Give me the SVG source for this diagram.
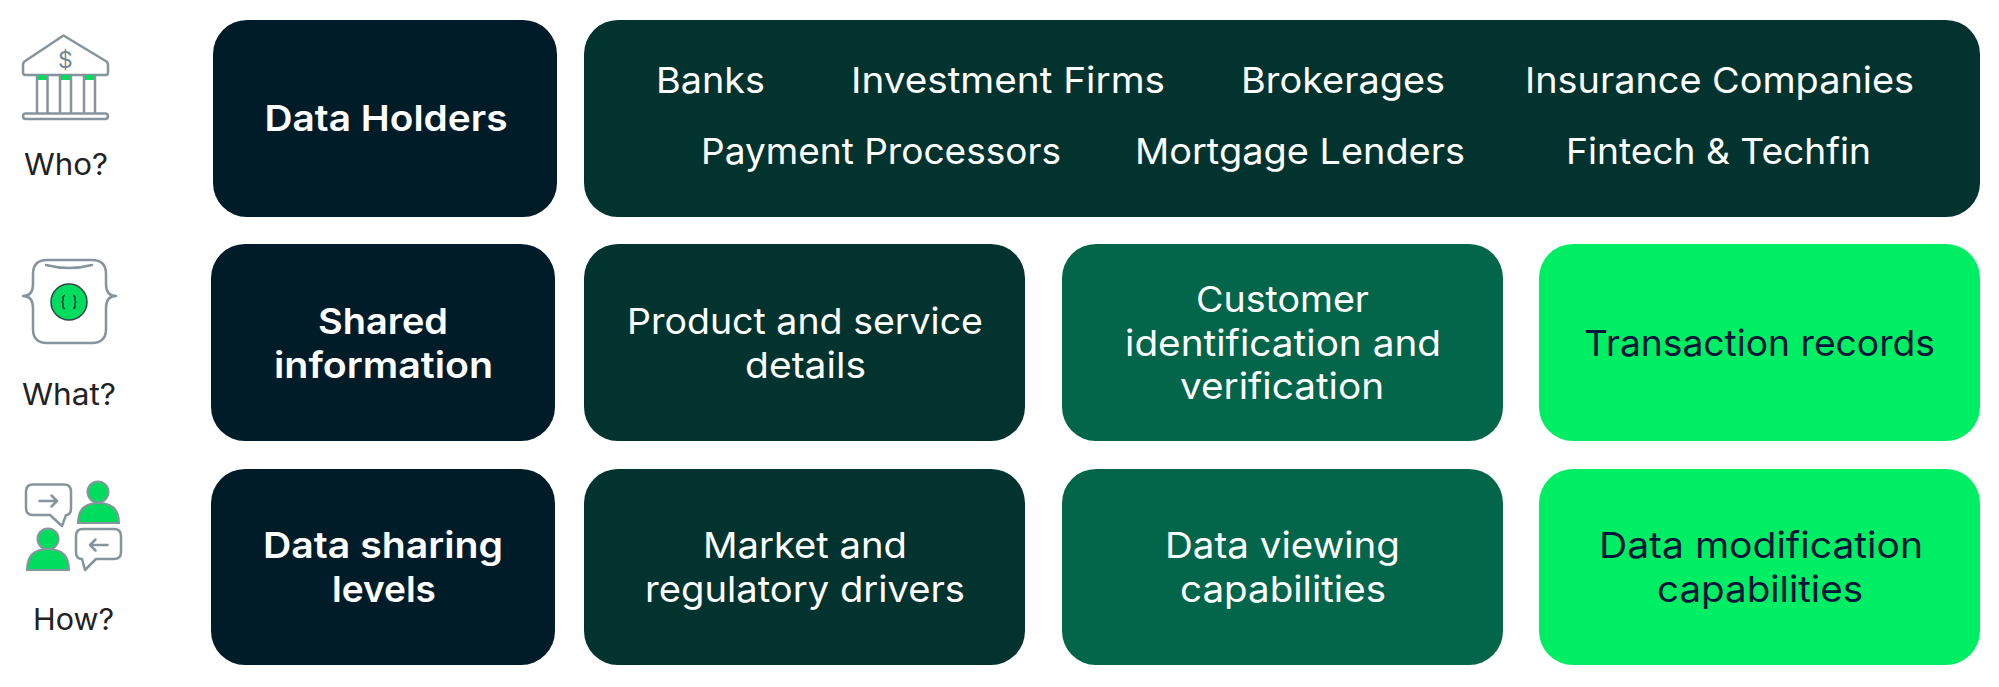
<svg xmlns="http://www.w3.org/2000/svg" width="1999" height="687" viewBox="0 0 1999 687">
<style>
text{font-family:"Inter","Liberation Sans",sans-serif;font-size:36px;font-weight:400}
.h{font-weight:600;fill:#fff}
.w{fill:#fff}
.d{fill:#02153a}
.q{fill:#222;font-size:30px}
.navy{fill:#001c29}.dark{fill:#03332f}.mid{fill:#03664b}.lime{fill:#00ee64}
.ln{fill:none;stroke:#84959d;stroke-width:2.500;stroke-linecap:round;stroke-linejoin:round}
.gf{fill:#00dd5e;stroke:#84959d;stroke-width:2}
</style>
<rect width="1999" height="687" fill="#fff"/>

<g id="icon-who">
<path class="ln" d="M63.500 35.500L24.500 61.500Q23 62.500 23 65V72.500Q23 75 25.500 75H105.500Q108 75 108 72.500V65Q108 62.500 106.500 61.500Z"/>
<rect x="38" y="75" width="9" height="5" fill="#00dd5e"/><rect x="61" y="75" width="9" height="5" fill="#00dd5e"/><rect x="85" y="75" width="9" height="5" fill="#00dd5e"/>
<path class="ln" d="M37 75V113M47.500 75V113M60 75V113M71 75V113M84 75V113M95 75V113"/>
<rect x="23" y="113.500" width="85" height="5.500" rx="2.700" class="ln"/>
<text x="65.500" y="68" text-anchor="middle" style="font-size:23px;fill:#738791">$</text>
<text class="q" x="24" y="175" textLength="84" lengthAdjust="spacingAndGlyphs">Who?</text>
</g>

<g id="icon-what">
<path class="ln" d="M47 260H92Q106 260 106 274V284Q106 296 116 296Q106 296 106 308V329Q106 343 92 343H47Q33 343 33 329V308Q33 296 23 296Q33 296 33 284V274Q33 260 47 260Z"/>
<path class="ln" d="M46 265Q69 271 92 265"/>
<circle cx="69" cy="302" r="18" fill="#00dd5e" stroke="#2f434b" stroke-width="1.500"/>
<path d="M65 295.500Q63 295.500 63 297.500V300.500Q63 302 61.500 302Q63 302 63 303.500V306.500Q63 308.500 65 308.500M73 295.500Q75 295.500 75 297.500V300.500Q75 302 76.500 302Q75 302 75 303.500V306.500Q75 308.500 73 308.500" fill="none" stroke="#1d4a3f" stroke-width="1.700"/>
<text class="q" x="22" y="405" textLength="94" lengthAdjust="spacingAndGlyphs">What?</text>
</g>

<g id="icon-how">
<path class="ln" d="M33 484.500H64Q71 484.500 71 491.500V508Q71 515 66 515L62 526L50 515H33Q26 515 26 508V491.500Q26 484.500 33 484.500Z"/>
<path class="ln" d="M39.500 501H57M51.500 495.500L57 501L51.500 506.500"/>
<circle class="gf" cx="98" cy="492" r="10.500"/>
<path class="gf" d="M78 523Q78 503 98.500 503Q119 503 119 523Z"/>
<circle class="gf" cx="48" cy="539" r="10.500"/>
<path class="gf" d="M27 570Q27 549 48 549Q69 549 69 570Z"/>
<path class="ln" d="M83 529H114Q121 529 121 536V552Q121 559 114 559H96L85 570L82 559Q76 559 76 552V536Q76 529 83 529Z"/>
<path class="ln" d="M107.500 545H90M95.500 539.500L90 545L95.500 550.500"/>
<text class="q" x="33" y="630" textLength="81" lengthAdjust="spacingAndGlyphs">How?</text>
</g>

<g id="data-holders">
<rect class="navy" x="213" y="20" width="344" height="197" rx="34"/>
<text class="h" x="264.500" y="131" textLength="243" lengthAdjust="spacingAndGlyphs">Data Holders</text>
</g>
<g id="holder-types">
<rect class="dark" x="584" y="20" width="1396" height="197" rx="34"/>
<text class="w" x="656" y="93" textLength="109" lengthAdjust="spacingAndGlyphs">Banks</text>
<text class="w" x="851" y="93" textLength="314" lengthAdjust="spacingAndGlyphs">Investment Firms</text>
<text class="w" x="1241" y="93" textLength="204" lengthAdjust="spacingAndGlyphs">Brokerages</text>
<text class="w" x="1525" y="93" textLength="389" lengthAdjust="spacingAndGlyphs">Insurance Companies</text>
<text class="w" x="701" y="164" textLength="360" lengthAdjust="spacingAndGlyphs">Payment Processors</text>
<text class="w" x="1135" y="164" textLength="330" lengthAdjust="spacingAndGlyphs">Mortgage Lenders</text>
<text class="w" x="1566" y="164" textLength="305" lengthAdjust="spacingAndGlyphs">Fintech &amp; Techfin</text>
</g>

<g id="shared-information">
<rect class="navy" x="211" y="244" width="344" height="197" rx="34"/>
<text class="h" x="318" y="334" textLength="130" lengthAdjust="spacingAndGlyphs">Shared</text>
<text class="h" x="274" y="378" textLength="219" lengthAdjust="spacingAndGlyphs">information</text>
</g>
<g id="product-service">
<rect class="dark" x="584" y="244" width="441" height="197" rx="34"/>
<text class="w" x="627" y="334" textLength="356" lengthAdjust="spacingAndGlyphs">Product and service</text>
<text class="w" x="745" y="378" textLength="121" lengthAdjust="spacingAndGlyphs">details</text>
</g>
<g id="customer-identification">
<rect class="mid" x="1062" y="244" width="441" height="197" rx="34"/>
<text class="w" x="1196" y="312" textLength="173" lengthAdjust="spacingAndGlyphs">Customer</text>
<text class="w" x="1125" y="356" textLength="316" lengthAdjust="spacingAndGlyphs">identification and</text>
<text class="w" x="1180" y="399" textLength="204" lengthAdjust="spacingAndGlyphs">verification</text>
</g>
<g id="transaction-records">
<rect class="lime" x="1539" y="244" width="441" height="197" rx="34"/>
<text class="d" x="1584" y="356" textLength="351" lengthAdjust="spacingAndGlyphs">Transaction records</text>
</g>

<g id="data-sharing-levels">
<rect class="navy" x="211" y="469" width="344" height="196" rx="34"/>
<text class="h" x="263" y="558" textLength="240" lengthAdjust="spacingAndGlyphs">Data sharing</text>
<text class="h" x="332" y="602" textLength="104" lengthAdjust="spacingAndGlyphs">levels</text>
</g>
<g id="market-regulatory">
<rect class="dark" x="584" y="469" width="441" height="196" rx="34"/>
<text class="w" x="703" y="558" textLength="204" lengthAdjust="spacingAndGlyphs">Market and</text>
<text class="w" x="645" y="602" textLength="320" lengthAdjust="spacingAndGlyphs">regulatory drivers</text>
</g>
<g id="data-viewing">
<rect class="mid" x="1062" y="469" width="441" height="196" rx="34"/>
<text class="w" x="1165" y="558" textLength="235" lengthAdjust="spacingAndGlyphs">Data viewing</text>
<text class="w" x="1180" y="602" textLength="206" lengthAdjust="spacingAndGlyphs">capabilities</text>
</g>
<g id="data-modification">
<rect class="lime" x="1539" y="469" width="441" height="196" rx="34"/>
<text class="d" x="1599" y="558" textLength="324" lengthAdjust="spacingAndGlyphs">Data modification</text>
<text class="d" x="1657" y="602" textLength="206" lengthAdjust="spacingAndGlyphs">capabilities</text>
</g>
</svg>
